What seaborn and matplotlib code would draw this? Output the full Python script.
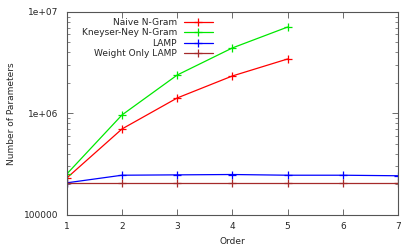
import seaborn as sns
import pandas as pd
import matplotlib.pyplot as plt
import numpy as np

orders_ngram = [1, 2, 3, 4, 5]
orders_lamp = [1, 2, 3, 4, 5, 6, 7]
naive = [231000, 703000, 1420000, 2340000, 3440000]
kneser = [253000, 966000, 2390000, 4420000, 7100000]
lamp = [207000, 246000, 248000, 250000, 246000, 246000, 243000]
weight_only = [205000, 205000, 205000, 205000, 205000, 205000, 205000]
y_ticks = [1e5, 1e6, 1e7]
y_ticklabels = ['100000', '1e+06', '1e+07']

sns.set_style('ticks')
plt.rcParams['font.family'] = ['DejaVu Sans']
plt.rcParams['font.size'] = 6.5

fig = plt.figure(figsize=(4.15, 2.49), dpi=100)
ax = fig.add_axes([0.161, 0.137, 0.798, 0.815])

series = [
    ('Naive N-Gram', orders_ngram, naive, '#ff0000'),
    ('Kneyser-Ney N-Gram', orders_ngram, kneser, '#00e800'),
    ('LAMP', orders_lamp, lamp, '#0000ff'),
    ('Weight Only LAMP', orders_lamp, weight_only, '#a52a2a'),
]
for name, xs, ys, col in series:
    sns.lineplot(x=xs, y=ys, color=col, marker='+', markersize=6,
                 mec=col, mew=0.9, linewidth=0.9, label=name, ax=ax)

ax.set_yscale('log')
ax.set_xlim(1, 7)
ax.set_ylim(1e5, 1e7)
ax.set_yticks(y_ticks)
ax.set_yticklabels(y_ticklabels)
ax.set_xticks(orders_lamp)
ax.set_xlabel('Order', fontsize=6.5, labelpad=4.5)
ax.set_ylabel('Number of Parameters', fontsize=6.5, labelpad=6)

ax.tick_params(which='both', direction='in', top=True, right=True,
               color='#555555', labelsize=6.5)
ax.tick_params(which='major', length=4, width=0.6)
ax.tick_params(axis='x', which='major', pad=5)
ax.tick_params(axis='y', which='major', pad=6)
ax.tick_params(which='minor', length=2, width=0.5)
for s in ax.spines.values():
    s.set_color('#555555')
    s.set_linewidth(0.8)

leg = ax.legend(loc='upper left', bbox_to_anchor=(0.02, 1.01), frameon=False,
                markerfirst=False, handlelength=3.2, handletextpad=0.8,
                labelspacing=0.16, fontsize=6.5)

fig.savefig('out.png', dpi=100)
